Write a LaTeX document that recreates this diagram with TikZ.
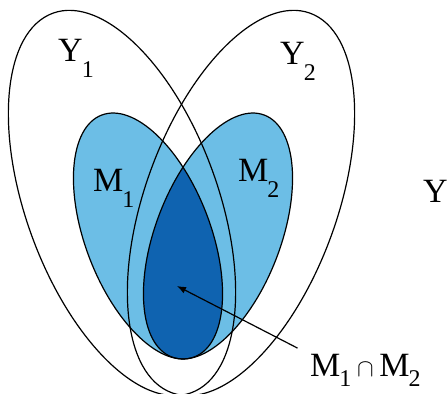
\documentclass[tikz,border=0pt]{standalone}
\usepackage{fontspec}
\setmainfont{Liberation Serif}
\usetikzlibrary{arrows.meta}
\definecolor{mlight}{RGB}{108,190,230}
\definecolor{mdark}{RGB}{15,99,176}
\tikzset{
  set line/.style={black, line width=1.2pt},
  set label/.style={anchor=base west, inner sep=0pt, font=\fontsize{34}{34}\selectfont},
  pointer/.style={-{Latex[length=9pt,width=7pt]}, line width=1.2pt}
}
\newcommand{\setname}[3][-16pt]{#2\kern-1pt\raisebox{#1}{\fontsize{24}{24}\selectfont #3}}

\begin{document}
\begin{tikzpicture}[x=1pt, y=1pt]
    \useasboundingbox (0,0) rectangle (448,394);

    % --- M1 and M2 (filled) ---
    \fill[mlight] (148,158) ellipse [x radius=62.5, y radius=129.5, rotate=21];
    \fill[mlight] (218,158) ellipse [x radius=62.5, y radius=129.5, rotate=-21];
    % intersection
    \begin{scope}
      \clip (148,158) ellipse [x radius=62.5, y radius=129.5, rotate=21];
      \fill[mdark] (218,158) ellipse [x radius=62.5, y radius=129.5, rotate=-21];
    \end{scope}
    \draw[set line] (148,158) ellipse [x radius=62.5, y radius=129.5, rotate=21];
    \draw[set line] (218,158) ellipse [x radius=62.5, y radius=129.5, rotate=-21];

    % --- Y1 and Y2 (outlines) ---
    \draw[set line] (122,191) ellipse [x radius=96, y radius=202, rotate=20];
    \draw[set line] (241,191) ellipse [x radius=96, y radius=202, rotate=-20];

    % labels
    \node[set label] (y1) at (58,332) {\setname{Y}{1}};
    \node[set label] (y2) at (280,329) {\setname{Y}{2}};
    \node[set label] (m1) at (93,202) {\setname{M}{1}};
    \node[set label] (m2) at (238,212) {\setname{M}{2}};
    \node[set label] (y) at (423,191) {Y};
    \node[set label] (inter) at (310,17) {\setname[-10pt]{M}{1}\,$\cap$\,\setname[-10pt]{M}{2}};

    % arrow to M1 cap M2
    \coordinate (tip) at (177,108);
    \draw[pointer, shorten <=14pt] (inter.north west) -- (tip);

  \end{tikzpicture}
\end{document}
